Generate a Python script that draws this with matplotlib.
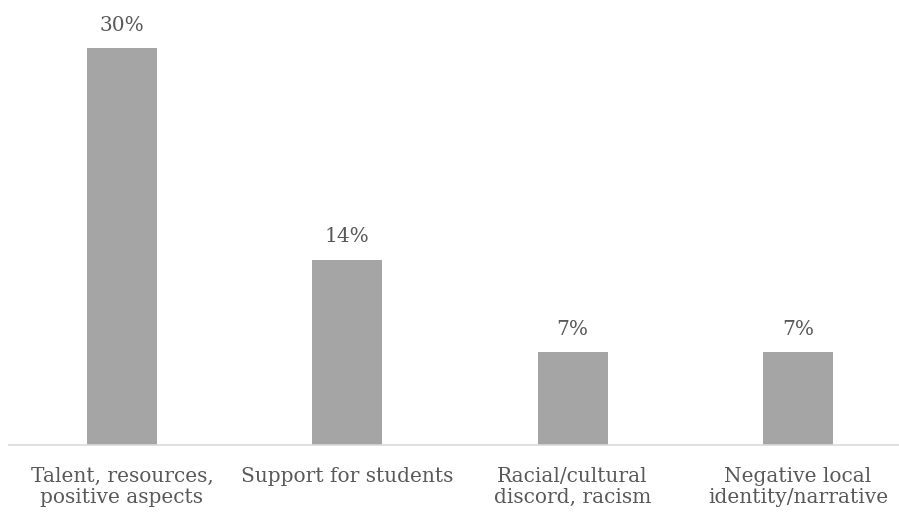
import matplotlib
matplotlib.use("Agg")
import matplotlib.pyplot as plt

categories = ["Talent, resources,\npositive aspects", "Support for students",
              "Racial/cultural\ndiscord, racism", "Negative local\nidentity/narrative"]
values = [30, 14, 7, 7]
value_labels = ["30%", "14%", "7%", "7%"]

plt.rcParams['font.family'] = ['DejaVu Serif']
text_color = '#595959'

fig = plt.figure(figsize=(8.99, 5.14), dpi=100)
ax = fig.add_axes([9.3 / 899, 69 / 514, 901.4 / 899, 425 / 514])

x = range(len(values))
bars = ax.bar(x, values, width=0.31, color='#A5A5A5', zorder=2)
for b, lab in zip(bars, value_labels):
    ax.text(b.get_x() + b.get_width() / 2, b.get_height() + 1.0, lab,
            ha='center', va='bottom', fontsize=14.5, color=text_color)

ax.set_xlim(-0.5, 3.5)
ax.set_ylim(0, 32.1)
ax.set_xticks(list(x))
ax.set_xticklabels(categories, fontsize=14.5, color=text_color, linespacing=1.1)
ax.tick_params(axis='x', length=0, pad=16)
ax.set_yticks([])
for side in ['top', 'left', 'right']:
    ax.spines[side].set_visible(False)
ax.spines['bottom'].set_color('#D9D9D9')
ax.spines['bottom'].set_linewidth(1.2)

fig.savefig('out.png', dpi=100)
